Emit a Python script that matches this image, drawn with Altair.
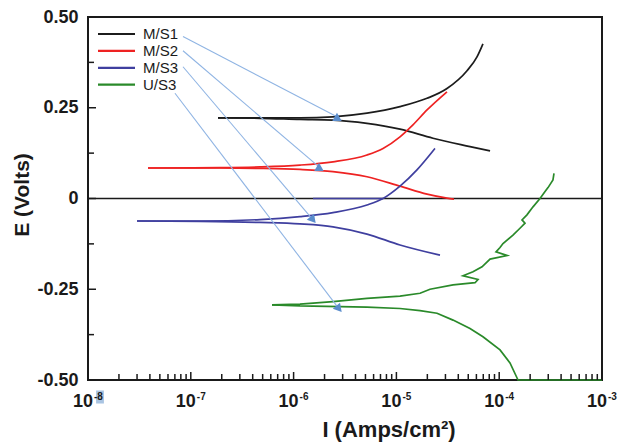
import altair as alt
import pandas as pd

SERIES = ["M/S1", "M/S2", "M/S3", "U/S3"]
COLORS = ["#1c1c1c", "#ee2222", "#3f3f9f", "#2a8a2a"]

# log10 of current density (A/cm²) and potential E (V), per branch
MS1_A_LOGI = [-6.735, -6.327, -5.938, -5.617, -5.286, -4.965, -4.702, -4.508, -4.313, -4.216, -4.158]
MS1_A_E = [0.222, 0.222, 0.222, 0.225, 0.235, 0.253, 0.276, 0.303, 0.352, 0.390, 0.426]
MS1_C_LOGI = [-6.735, -6.327, -5.938, -5.617, -5.286, -4.965, -4.644, -4.284, -4.089]
MS1_C_E = [0.222, 0.221, 0.218, 0.216, 0.207, 0.191, 0.166, 0.143, 0.131]

MS2_A_LOGI = [-7.416, -6.716, -6.327, -5.938, -5.617, -5.286, -5.130, -4.965, -4.839, -4.702, -4.508]
MS2_A_E = [0.084, 0.085, 0.087, 0.092, 0.101, 0.120, 0.138, 0.170, 0.203, 0.244, 0.294]
MS2_C_LOGI = [-7.416, -6.716, -6.327, -5.938, -5.617, -5.286, -4.965, -4.702, -4.508, -4.440]
MS2_C_E = [0.084, 0.084, 0.083, 0.080, 0.074, 0.060, 0.034, 0.012, 0.001, -0.002]

MS3_A_LOGI = [-7.523, -6.911, -6.327, -5.938, -5.617, -5.286, -5.130, -4.965, -4.800, -4.625]
MS3_A_E = [-0.062, -0.062, -0.058, -0.050, -0.039, -0.018, 0.000, 0.034, 0.079, 0.138]
MS3_C_LOGI = [-7.523, -6.911, -6.327, -5.938, -5.617, -5.286, -4.965, -4.576]
MS3_C_E = [-0.062, -0.063, -0.066, -0.070, -0.078, -0.098, -0.128, -0.156]
MS3_FLAT_LOGI = [-5.811, -5.130]
MS3_FLAT_E = [0.0, 0.0]

US3_A_LOGI = [-6.210, -5.938, -5.617, -5.286, -4.965, -4.770, -4.673, -4.449, -4.235, -4.206,
              -4.352, -4.255, -4.167, -4.089, -3.924, -4.031, -3.992, -3.963, -3.866, -3.798,
              -3.749, -3.778, -3.730, -3.671, -3.603, -3.554, -3.525, -3.477, -3.467]
US3_A_E = [-0.293, -0.291, -0.284, -0.275, -0.269, -0.261, -0.250, -0.238, -0.232, -0.223,
           -0.213, -0.202, -0.188, -0.167, -0.157, -0.147, -0.135, -0.124, -0.101, -0.082,
           -0.068, -0.059, -0.045, -0.023, 0.000, 0.019, 0.030, 0.051, 0.069]
US3_C_LOGI = [-6.210, -5.938, -5.286, -4.965, -4.770, -4.605, -4.449, -4.284, -4.158, -3.992, -3.895, -3.817, -3.0]
US3_C_E = [-0.293, -0.296, -0.299, -0.303, -0.309, -0.316, -0.335, -0.358, -0.381, -0.417, -0.453, -0.500, -0.500]

# annotation arrows (legend label -> curve)
ARROW_START_LOGI = [-7.076, -7.076, -7.076, -7.154]
ARROW_START_E = [0.446, 0.407, 0.363, 0.290]
ARROW_END_LOGI = [-5.578, -5.753, -5.811, -5.558]
ARROW_END_E = [0.225, 0.087, -0.059, -0.304]
ARROW_HEAD_ANGLE = [0, 0, 140, 140]

# axes
X_DECADES = [-8, -7, -6, -5, -4, -3]
Y_MAJOR = [-0.5, -0.25, 0.0, 0.25, 0.5]
Y_MINOR = [-0.375, -0.125, 0.125, 0.375]
X_TITLE = "I (Amps/cm²)"
Y_TITLE = "E (Volts)"

FONT = "Liberation Sans"
W, H = 514, 363

smooth_rows, rough_rows = [], []
branches = [
    ("M/S1", "a", MS1_A_LOGI, MS1_A_E), ("M/S1", "c", MS1_C_LOGI, MS1_C_E),
    ("M/S2", "a", MS2_A_LOGI, MS2_A_E), ("M/S2", "c", MS2_C_LOGI, MS2_C_E),
    ("M/S3", "a", MS3_A_LOGI, MS3_A_E), ("M/S3", "c", MS3_C_LOGI, MS3_C_E),
    ("M/S3", "f", MS3_FLAT_LOGI, MS3_FLAT_E),
    ("U/S3", "a", US3_A_LOGI, US3_A_E), ("U/S3", "c", US3_C_LOGI, US3_C_E),
]
for s, b, li, ee in branches:
    target = rough_rows if s == "U/S3" else smooth_rows
    for k, (l, e) in enumerate(zip(li, ee)):
        target.append({"series": s, "branch": s + b, "idx": k, "I": 10 ** l, "E": e})

xs = alt.Scale(type="log", domain=[1e-8, 1e-3], nice=False)
ys = alt.Scale(domain=[-0.5, 0.5], nice=False)
cs = alt.Scale(domain=SERIES, range=COLORS)

zero = alt.Chart(pd.DataFrame({"E": [0.0]})).mark_rule(color="#1a1a1a", strokeWidth=1.6).encode(
    y=alt.Y("E:Q", scale=ys, axis=alt.Axis(
        values=Y_MAJOR,
        labelExpr="datum.value == 0 ? '0' : replace(format(datum.value, '.2f'), '\u2212', '-')",
        ticks=False, domain=False, grid=False, title=None, labelFont=FONT,
        labelFontSize=18, labelFontWeight="bold", labelPadding=10, labelColor="#1a1a1a")),
    x=alt.value(0), x2=alt.value(W))


def curve_layer(rows, interp):
    return alt.Chart(pd.DataFrame(rows)).mark_line(strokeWidth=1.7, interpolate=interp).encode(
        x=alt.X("I:Q", scale=xs, axis=None),
        y=alt.Y("E:Q", scale=ys),
        color=alt.Color("series:N", scale=cs, legend=None),
        detail="branch:N",
        order=alt.Order("idx:Q"))


smooth = curve_layer(smooth_rows, "monotone")
rough = curve_layer(rough_rows, "linear")

arr = pd.DataFrame({
    "x1": [10 ** v for v in ARROW_START_LOGI], "y1": ARROW_START_E,
    "x2": [10 ** v for v in ARROW_END_LOGI], "y2": ARROW_END_E, "ang": ARROW_HEAD_ANGLE})
arrow_lines = alt.Chart(arr).mark_rule(color="#8fb4e3", strokeWidth=1.1).encode(
    x=alt.X("x1:Q", scale=xs), y=alt.Y("y1:Q", scale=ys), x2="x2:Q", y2="y2:Q")
arrow_heads = alt.Chart(arr).mark_point(shape="triangle-up", filled=True, size=90,
                                        color="#5b8dcc", opacity=1).encode(
    x=alt.X("x2:Q", scale=xs), y=alt.Y("y2:Q", scale=ys), angle=alt.Angle("ang:Q", scale=None))

# inward ticks
xmaj = pd.DataFrame({"t": [10.0 ** d for d in X_DECADES]})
xmin = pd.DataFrame({"t": [m * 10.0 ** d for d in X_DECADES[:-1] for m in range(2, 10)]})
tick_c = "#1a1a1a"
xmaj_t = alt.Chart(xmaj).mark_rule(color=tick_c, strokeWidth=1.5).encode(
    x=alt.X("t:Q", scale=xs), y=alt.value(H), y2=alt.value(H - 8))
xmin_t = alt.Chart(xmin).mark_rule(color=tick_c, strokeWidth=1.5).encode(
    x=alt.X("t:Q", scale=xs), y=alt.value(H), y2=alt.value(H - 6))
ymaj_t = alt.Chart(pd.DataFrame({"t": Y_MAJOR})).mark_rule(color=tick_c, strokeWidth=1.5).encode(
    y=alt.Y("t:Q", scale=ys), x=alt.value(0), x2=alt.value(8))
ymin_t = alt.Chart(pd.DataFrame({"t": Y_MINOR})).mark_rule(color=tick_c, strokeWidth=1.5).encode(
    y=alt.Y("t:Q", scale=ys), x=alt.value(0), x2=alt.value(6))

# decade labels 10^n
dec = pd.DataFrame({"t": [10.0 ** d for d in X_DECADES], "base": ["10"] * len(X_DECADES),
                    "exp": [str(d) for d in X_DECADES]})
hl = alt.Chart(dec.iloc[:1]).mark_point(shape="M-0.6,-1H0.6V1H-0.6Z", filled=True, size=170,
                                        color="#a9c4e2", opacity=1, xOffset=12).encode(
    x=alt.X("t:Q", scale=xs), y=alt.value(380))
base_t = alt.Chart(dec).mark_text(font=FONT, fontSize=18, fontWeight="bold", align="right",
                                  baseline="alphabetic", dx=5, color="#1a1a1a").encode(
    x=alt.X("t:Q", scale=xs), y=alt.value(390), text="base:N")
exp_t = alt.Chart(dec).mark_text(font=FONT, fontSize=10, fontWeight="bold", align="left",
                                 baseline="alphabetic", dx=6, color="#1a1a1a").encode(
    x=alt.X("t:Q", scale=xs), y=alt.value(383), text="exp:N")

xt = alt.Chart(pd.DataFrame({"t": [X_TITLE]})).mark_text(
    font=FONT, fontSize=22, fontWeight="bold", align="center",
    baseline="alphabetic", color="#1a1a1a").encode(x=alt.value(301), y=alt.value(420), text="t:N")
yt = alt.Chart(pd.DataFrame({"t": [Y_TITLE]})).mark_text(
    font=FONT, fontSize=21, fontWeight="bold", align="center", baseline="middle",
    angle=270, color="#1a1a1a").encode(x=alt.value(-65), y=alt.value(178), text="t:N")

# legend
leg = pd.DataFrame({"series": SERIES, "row": list(range(len(SERIES)))})
leg_base = alt.Chart(leg).transform_calculate(py="17 + datum.row * 16.9")
leg_lines = leg_base.mark_rule(strokeWidth=2.2).encode(
    x=alt.value(10), x2=alt.value(47), y=alt.Y("py:Q", scale=None),
    color=alt.Color("series:N", scale=cs, legend=None))
leg_text = leg_base.mark_text(font=FONT, fontSize=15, align="left", baseline="middle",
                              color="#1a1a1a").encode(
    x=alt.value(55), y=alt.Y("py:Q", scale=None), text="series:N")

chart = alt.layer(
    zero, smooth, rough, arrow_lines, arrow_heads, xmaj_t, xmin_t, ymaj_t, ymin_t,
    hl, base_t, exp_t, xt, yt, leg_lines, leg_text
).properties(
    width=W, height=H,
    autosize=alt.AutoSizeParams(type="none"),
    padding={"left": 88, "top": 17, "right": 16, "bottom": 62},
    background="white",
).configure_view(stroke="#1a1a1a", strokeWidth=2)

chart.save("out.html", embed_options={"renderer": "svg", "actions": False})
